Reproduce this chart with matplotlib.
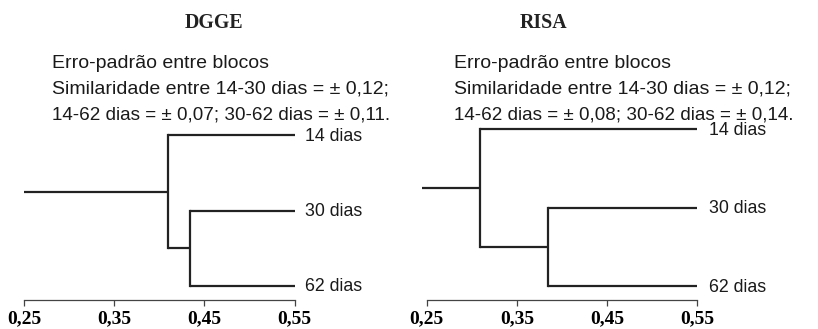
import matplotlib
matplotlib.use("Agg")
import matplotlib.pyplot as plt

# ---- data ----
leaves = ["14 dias", "30 dias", "62 dias"]
tick_values = [0.25, 0.35, 0.45, 0.55]
tick_labels = ["0,25", "0,35", "0,45", "0,55"]

dgge_inner = 0.434   # 30 dias + 62 dias
dgge_outer = 0.410   # 14 dias + (30, 62)
dgge_root = 0.250

risa_inner = 0.384
risa_outer = 0.309
risa_root = 0.245

dgge_notes = ["Erro-padrão entre blocos",
              "Similaridade entre 14-30 dias = ± 0,12;",
              "14-62 dias = ± 0,07; 30-62 dias = ± 0,11."]
risa_notes = ["Erro-padrão entre blocos",
              "Similaridade entre 14-30 dias = ± 0,12;",
              "14-62 dias = ± 0,08; 30-62 dias = ± 0,14."]

W, H = 818, 329
fig = plt.figure(figsize=(W / 100, H / 100), dpi=100)

LC = "#222222"
LW = 1.6
SANS = "Liberation Sans"
SERIF = "Liberation Serif"


def px_ax(x0, x1, ybot, ytop):
    return fig.add_axes([x0 / W, (H - ybot) / H, (x1 - x0) / W, (ybot - ytop) / H])


def draw_panel(x0, x1, ytop, ylim, inner, outer, root, title, title_x, notes, notes_x, lab_off):
    ax = px_ax(x0, x1, 299.5, ytop)
    ax.set_xlim(0.25, 0.55)
    ax.set_ylim(*ylim)
    ypos = [2, 1, 0]
    # leaves
    ax.plot([outer, 0.55], [ypos[0], ypos[0]], color=LC, lw=LW, clip_on=False, solid_capstyle="butt")
    ax.plot([inner, 0.55], [ypos[1], ypos[1]], color=LC, lw=LW, clip_on=False, solid_capstyle="butt")
    ax.plot([inner, 0.55], [ypos[2], ypos[2]], color=LC, lw=LW, clip_on=False, solid_capstyle="butt")
    # inner vertical
    yi = (ypos[1] + ypos[2]) / 2
    ax.plot([inner, inner], [ypos[2], ypos[1]], color=LC, lw=LW, clip_on=False)
    ax.plot([outer, inner], [yi, yi], color=LC, lw=LW, clip_on=False, solid_capstyle="butt")
    yo = (ypos[0] + yi) / 2
    ax.plot([outer, outer], [yi, ypos[0]], color=LC, lw=LW, clip_on=False)
    ax.plot([root, outer], [yo, yo], color=LC, lw=LW, clip_on=False, solid_capstyle="butt")
    for name, y in zip(leaves, ypos):
        ax.annotate(name, (0.55, y), xytext=(lab_off, -1), textcoords="offset pixels",
                    va="center", ha="left", fontsize=12.8, family=SANS, color="#1a1a1a",
                    annotation_clip=False)
    for s in ["top", "right", "left"]:
        ax.spines[s].set_visible(False)
    ax.spines["bottom"].set_color("#444444")
    ax.spines["bottom"].set_linewidth(0.9)
    ax.set_yticks([])
    ax.set_xticks(tick_values)
    ax.set_xticklabels(tick_labels, family=SERIF, fontweight="bold", fontsize=14)
    ax.tick_params(axis="x", direction="out", length=4.5, width=0.9, color="#444444", pad=3.2)
    ax.patch.set_alpha(0)
    fig.text(title_x / W, 1 - 28.5 / H, title, ha="center", va="baseline",
             family=SERIF, fontweight="bold", fontsize=14.3, color="#222222")
    for t, yb, fs in zip(notes, [68.3, 93.5, 119.0], [14.0, 14.0, 13.6]):
        fig.text(notes_x / W, 1 - yb / H, t, ha="left", va="baseline",
                 family=SANS, fontsize=fs, color="#1a1a1a")
    return ax


draw_panel(24, 294.7, 120, (-0.179, 2.199), dgge_inner, dgge_outer, dgge_root,
           "DGGE", 213.7, dgge_notes, 52, 10)
draw_panel(426.7, 697.3, 120, (-0.172, 2.115), risa_inner, risa_outer, risa_root,
           "RISA", 543, risa_notes, 454.3, 12)

fig.savefig("out.png", dpi=100)
